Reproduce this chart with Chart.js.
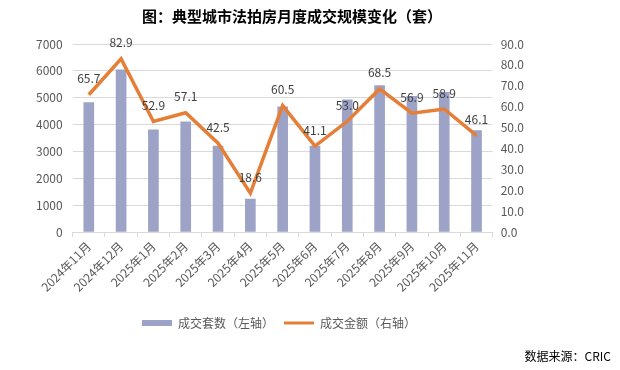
<!DOCTYPE html>
<html lang="zh">
<head>
<meta charset="UTF-8">
<title>典型城市法拍房月度成交规模变化</title>
<style>
    body {
        margin: 0;
        padding: 0;
        background: #fff;
        font-family: "Noto Sans CJK SC", "Microsoft YaHei", sans-serif;
    }
    .wrap {
        position: relative;
        width: 620px;
        height: 370px;
    }
    .title {
        position: absolute;
        left: 0;
        top: 5px;
        width: 584px;
        text-align: center;
        font-size: 15px;
        font-weight: bold;
        color: #000;
    }
    .source {
        position: absolute;
        right: 9px;
        top: 347px;
        font-size: 12px;
        color: #000;
    }
    canvas {
        position: absolute;
        left: 0;
        top: 0;
    }
</style>
</head>
<body>
<div class="wrap">
    <canvas id="chart" width="620" height="370"></canvas>
    <div class="title">图：典型城市法拍房月度成交规模变化（套）</div>
    <div class="source">数据来源：CRIC</div>
</div>

<script src="https://cdn.jsdelivr.net/npm/chart.js"></script>
<script>
    // data
    const months = ['2024年11月', '2024年12月', '2025年1月', '2025年2月', '2025年3月', '2025年4月', '2025年5月',
        '2025年6月', '2025年7月', '2025年8月', '2025年9月', '2025年10月', '2025年11月'];
    const dealCount = [4820, 6040, 3800, 4100, 3200, 1230, 4660, 3200, 4920, 5450, 5050, 5200, 3780];
    const dealAmount = [65.7, 82.9, 52.9, 57.1, 42.5, 18.6, 60.5, 41.1, 53.0, 68.5, 56.9, 58.9, 46.1];

    const fontFamily = '"Noto Sans CJK SC", "Microsoft YaHei", sans-serif';
    const tickFont = { family: fontFamily, size: 12 };

    // value labels above the line points
    const lineLabels = {
        id: 'lineLabels',
        afterDatasetsDraw(chart) {
            const ctx = chart.ctx;
            const meta = chart.getDatasetMeta(1);
            ctx.save();
            ctx.font = '12px ' + fontFamily;
            ctx.fillStyle = '#404040';
            ctx.textAlign = 'center';
            ctx.textBaseline = 'bottom';
            meta.data.forEach((pt, i) => {
                ctx.fillText(dealAmount[i].toFixed(1), pt.x, pt.y - 10);
            });
            ctx.restore();
        }
    };

    new Chart(document.getElementById('chart'), {
        data: {
            labels: months,
            datasets: [{
                type: 'bar',
                label: '成交套数（左轴）',
                data: dealCount,
                backgroundColor: '#9da2c7',
                barThickness: 10,
                yAxisID: 'y',
                order: 2
            }, {
                type: 'line',
                label: '成交金额（右轴）',
                data: dealAmount,
                borderColor: '#e57f38',
                backgroundColor: '#e57f38',
                borderWidth: 3.5,
                pointRadius: 0,
                tension: 0,
                yAxisID: 'y1',
                order: 1
            }]
        },
        options: {
            responsive: false,
            animation: false,
            layout: {
                padding: { top: 44, left: 26, right: 88, bottom: 31 }
            },
            plugins: {
                title: { display: false },
                tooltip: { enabled: false },
                legend: {
                    position: 'bottom',
                    labels: {
                        usePointStyle: true,
                        pointStyleWidth: 30,
                        boxHeight: 6,
                        padding: 10,
                        color: '#595959',
                        font: { family: fontFamily, size: 12 },
                        generateLabels(chart) {
                            const items = Chart.defaults.plugins.legend.labels.generateLabels(chart);
                            items.sort((a, b) => a.datasetIndex - b.datasetIndex);
                            items.forEach(it => {
                                it.pointStyle = it.datasetIndex === 0 ? 'rect' : 'line';
                                if (it.datasetIndex === 1) it.lineWidth = 3;
                            });
                            return items;
                        }
                    }
                }
            },
            scales: {
                x: {
                    offset: true,
                    grid: {
                        offset: true,
                        drawOnChartArea: false,
                        tickLength: 5,
                        color: '#d9d9d9'
                    },
                    border: { color: '#d9d9d9' },
                    ticks: {
                        color: '#595959',
                        font: tickFont,
                        minRotation: 45,
                        maxRotation: 45,
                        padding: 2
                    },
                    afterFit(scale) { scale.height = 75; }
                },
                y: {
                    position: 'left',
                    min: 0,
                    max: 7000,
                    grid: { color: '#d9d9d9', drawTicks: false },
                    border: { display: false },
                    ticks: {
                        stepSize: 1000,
                        color: '#595959',
                        font: tickFont,
                        padding: 10,
                        callback: v => String(v)
                    }
                },
                y1: {
                    position: 'right',
                    min: 0,
                    max: 90,
                    grid: { display: false, drawTicks: false },
                    border: { display: false },
                    ticks: {
                        stepSize: 10,
                        color: '#595959',
                        font: tickFont,
                        padding: 8,
                        callback: v => v.toFixed(1)
                    }
                }
            }
        },
        plugins: [lineLabels]
    });
</script>
</body>
</html>
